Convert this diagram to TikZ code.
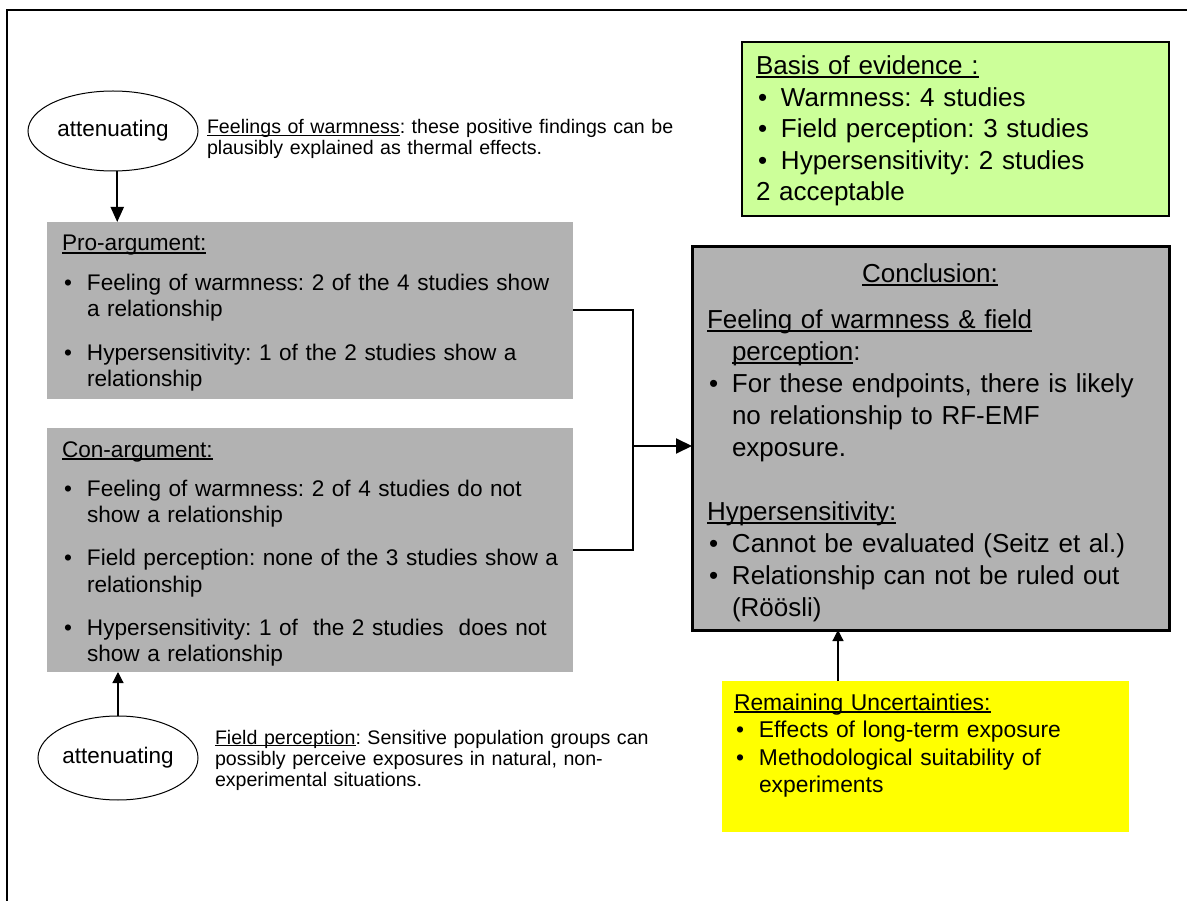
\documentclass[tikz,border=0pt]{standalone}
\usepackage{fontspec}
\setmainfont{Liberation Sans}
\usetikzlibrary{shapes.geometric,arrows.meta,calc}

\definecolor{argray}{HTML}{B2B2B2}
\definecolor{evgreen}{HTML}{CCFF99}
\definecolor{uncyellow}{HTML}{FFFF00}

% underline drawn as a rule below the text
\newcommand{\undl}[1]{\leavevmode\setbox0=\hbox{#1}\rlap{\rule[-0.12em]{\wd0}{0.07em}}\box0}
% bullet item with hanging indent; optional extra space above
\newcommand{\itm}[2][0pt]{\par\vspace{#1}\hangindent=25pt\hangafter=1\noindent\makebox[25pt][l]{\hspace{2pt}\textbullet}#2\par}

\newcommand{\fsArg}{\fontsize{22.6pt}{26.5pt}\selectfont\frenchspacing}
\newcommand{\fsConc}{\fontsize{26pt}{32pt}\selectfont\frenchspacing}
\newcommand{\fsEv}{\fontsize{26pt}{31.5pt}\selectfont\frenchspacing}
\newcommand{\fsUnc}{\fontsize{22.85pt}{27.5pt}\selectfont\frenchspacing}
\newcommand{\fsEll}{\fontsize{22.5pt}{26pt}\selectfont}
\newcommand{\fsNote}{\fontsize{19.6pt}{21pt}\selectfont\frenchspacing}

\tikzset{
  panel/.style={rectangle, anchor=north west, inner sep=0pt, outer sep=0pt},
  txt/.style={anchor=base west, inner sep=0pt, outer sep=0pt, text width=#1, align=left},
  ellnode/.style={ellipse, draw, line width=1pt, inner sep=0pt, font=\fsEll},
  conn/.style={line width=2pt},
  thickarrow/.style={line width=2pt, -{Triangle[length=15pt,width=13pt]}},
  thinarrow/.style={line width=1.2pt, -{Triangle[length=11pt,width=11pt]}},
}

\begin{document}
\begin{tikzpicture}[x=1pt,y=-1pt]
\useasboundingbox (0,0) rectangle (1187,901);

% outer frame (left and top edges)
\draw[line width=2.5pt] (7,901) -- (7,10) -- (1187,10);

% boxes
\node[panel, fill=argray, minimum width=526pt, minimum height=177pt] (pro) at (47,222) {};
\node[panel, fill=argray, minimum width=526pt, minimum height=244pt] (con) at (47,428) {};
\node[panel, fill=argray, draw, line width=3pt, minimum width=477pt, minimum height=383pt] (concl) at (692,247) {};
\node[panel, fill=evgreen, draw, line width=2pt, minimum width=427pt, minimum height=174pt] (evid) at (742,42) {};
\node[panel, fill=uncyellow, minimum width=407pt, minimum height=151pt] (unc) at (722,681) {};

% ellipses
\node[ellnode, minimum width=170pt, minimum height=80pt] (att1) at (113,131) {attenuating};
\node[ellnode, minimum width=160pt, minimum height=84pt] (att2) at (118,758) {attenuating};

% side notes
\node[txt=560pt, font=\fsNote] (note1) at (207,134)
  {\undl{Feelings of warmness}: these positive findings can be\newline plausibly explained as thermal effects.};
\node[txt=560pt, font=\fsNote] (note2) at (215,744)
  {\undl{Field perception}: Sensitive population groups can\newline possibly perceive exposures in natural, non-\newline experimental situations.};

% pro-argument text
\node[txt=600pt, font=\fsArg] (protxt) at (62,251)
  {\undl{Pro-argument:}%
   \itm[13pt]{Feeling of warmness: 2 of the 4 studies show\newline a relationship}%
   \itm[17pt]{Hypersensitivity: 1 of the 2 studies show a\newline relationship}};

% con-argument text
\node[txt=600pt, font=\fsArg] (contxt) at (62,457)
  {\undl{Con-argument:}%
   \itm[13pt]{Feeling of warmness: 2 of 4 studies do not\newline show a relationship}%
   \itm[16pt]{Field perception: none of the 3 studies show a\newline relationship}%
   \itm[17pt]{Hypersensitivity: 1 of\ \ the 2 studies\ \ does not\newline show a relationship}};

% conclusion text
\node[anchor=base, inner sep=0pt, font=\fsConc] (conhead) at (930,283) {\undl{Conclusion:}};
\node[txt=560pt, font=\fsConc] (conctxt) at (707,329)
  {\hangindent=25pt\hangafter=1\noindent\undl{Feeling of warmness \& field}\newline\undl{perception}:%
   \itm{For these endpoints, there is likely\newline no relationship to RF-EMF\newline exposure.}%
   \vspace{32pt}\noindent\undl{Hypersensitivity:}%
   \itm{Cannot be evaluated (Seitz et al.)}%
   \itm{Relationship can not be ruled out\newline (Röösli)}};

% evidence text
\node[txt=500pt, font=\fsEv] (evtxt) at (756,75)
  {\undl{Basis of evidence :}%
   \itm{Warmness: 4 studies}%
   \itm{Field perception: 3 studies}%
   \itm{Hypersensitivity: 2 studies}%
   \noindent 2 acceptable};

% uncertainties text
\node[txt=500pt, font=\fsUnc] (unctxt) at (734,710)
  {\undl{Remaining Uncertainties:}%
   \itm{Effects of long-term exposure}%
   \itm{Methodological suitability of\newline experiments}};

% connectors
\coordinate (join) at (633,446);
\draw[conn] (pro.east) -| (join) |- (con.east);
\draw[line width=2pt, -{Triangle[length=16pt,width=15pt]}] (join) -- (join -| concl.west);

\draw[thickarrow] (att1.-84) -- (att1.-84 |- pro.north);
\draw[thinarrow] (att2.90) -- (att2.90 |- con.south);

\coordinate (uarr) at ($(unc.north west)+(116,0)$);
\draw[thinarrow] (uarr) -- (uarr |- concl.south);

\end{tikzpicture}
\end{document}
